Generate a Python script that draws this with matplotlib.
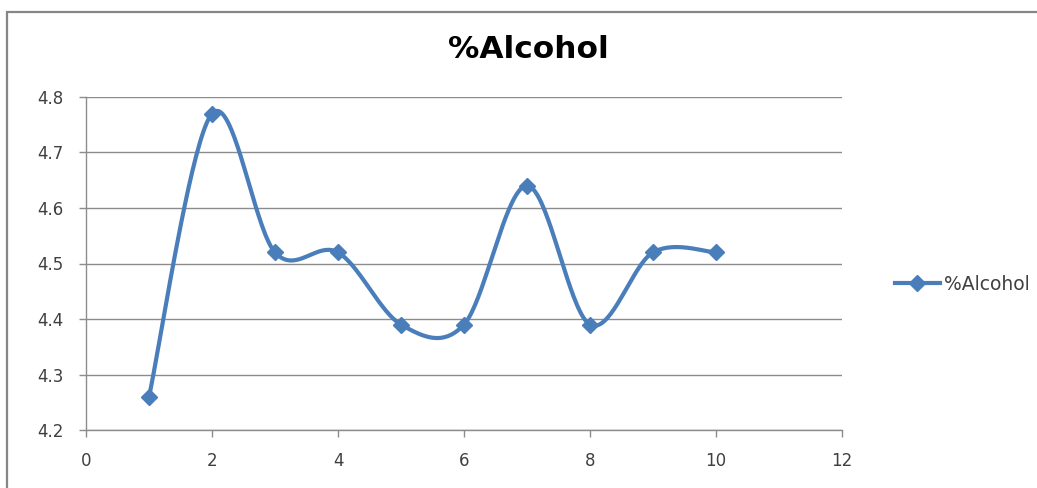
import numpy as np
import matplotlib
matplotlib.use("Agg")
import matplotlib.pyplot as plt
from matplotlib.patches import Rectangle

# Sample index and measured alcohol content
sample = [1, 2, 3, 4, 5, 6, 7, 8, 9, 10]
alcohol = [4.26, 4.77, 4.52, 4.52, 4.39, 4.39, 4.64, 4.39, 4.52, 4.52]
series_name = "%Alcohol"
x_ticks = [0, 2, 4, 6, 8, 10, 12]
y_ticks = [4.2, 4.3, 4.4, 4.5, 4.6, 4.7, 4.8]

LINE_COLOR = "#4A7EBB"
GRID_COLOR = "#8C8C8C"
TEXT_COLOR = "#404040"

plt.rcParams["font.family"] = ["DejaVu Sans"]


def smooth_curve(xs, ys, n=40):
    """Catmull-Rom style Bezier smoothing through every point."""
    p = np.column_stack([xs, ys]).astype(float)
    pts = np.vstack([p[0], p, p[-1]])
    out = []
    t = np.linspace(0, 1, n)[:, None]
    for i in range(1, len(pts) - 2):
        p0, p1, p2, p3 = pts[i - 1], pts[i], pts[i + 1], pts[i + 2]
        c1 = p1 + (p2 - p0) / 6.0
        c2 = p2 - (p3 - p1) / 6.0
        seg = ((1 - t) ** 3) * p1 + 3 * ((1 - t) ** 2) * t * c1 \
            + 3 * (1 - t) * t ** 2 * c2 + t ** 3 * p2
        out.append(seg if i == 1 else seg[1:])
    out = np.vstack(out)
    return out[:, 0], out[:, 1]


fig = plt.figure(figsize=(10.37, 4.88), dpi=100)
fig.patch.set_facecolor("white")

# outer chart-area frame
fig.patches.append(Rectangle((7 / 1037, -0.1), 1.2, (488 - 12) / 488 + 0.1,
                             transform=fig.transFigure, fill=False,
                             edgecolor="#868686", linewidth=1.6))

ax = fig.add_axes([86 / 1037, 58 / 488, (842 - 86) / 1037, (430 - 97) / 488])

sx, sy = smooth_curve(sample, alcohol)
ax.plot(sx, sy, color=LINE_COLOR, linewidth=3.0, solid_capstyle="round", zorder=3)
ax.plot(sample, alcohol, linestyle="none", marker="D", markersize=8.5,
        color=LINE_COLOR, zorder=4)
# legend proxy combining line and marker
ax.plot([], [], color=LINE_COLOR, linewidth=3.0, marker="D", markersize=8,
        label=series_name)

ax.set_xlim(0, 12)
ax.set_ylim(4.2, 4.8)
ax.set_xticks(x_ticks)
ax.set_yticks(y_ticks)
ax.set_xticklabels([str(v) for v in x_ticks])
ax.set_yticklabels([f"{v:.1f}" for v in y_ticks])

ax.grid(axis="y", color=GRID_COLOR, linewidth=1.0)
ax.set_axisbelow(True)
for side in ("top", "right"):
    ax.spines[side].set_visible(False)
for side in ("left", "bottom"):
    ax.spines[side].set_color(GRID_COLOR)
    ax.spines[side].set_linewidth(1.0)
ax.tick_params(axis="both", direction="out", length=5, width=1,
               color=GRID_COLOR, labelcolor=TEXT_COLOR, labelsize=12)
ax.tick_params(axis="x", pad=11)
ax.tick_params(axis="y", pad=11)

fig.text(528 / 1037, 1 - 50 / 488, series_name, ha="center", va="center",
         fontsize=22.5, fontweight="bold", color="black")

fig.legend(loc="center left", bbox_to_anchor=(878 / 1037, 1 - 284 / 488),
           frameon=False, fontsize=13.5, handlelength=2.4, handletextpad=0.2,
           labelcolor=TEXT_COLOR)

fig.savefig("out.png", dpi=100, facecolor="white")
